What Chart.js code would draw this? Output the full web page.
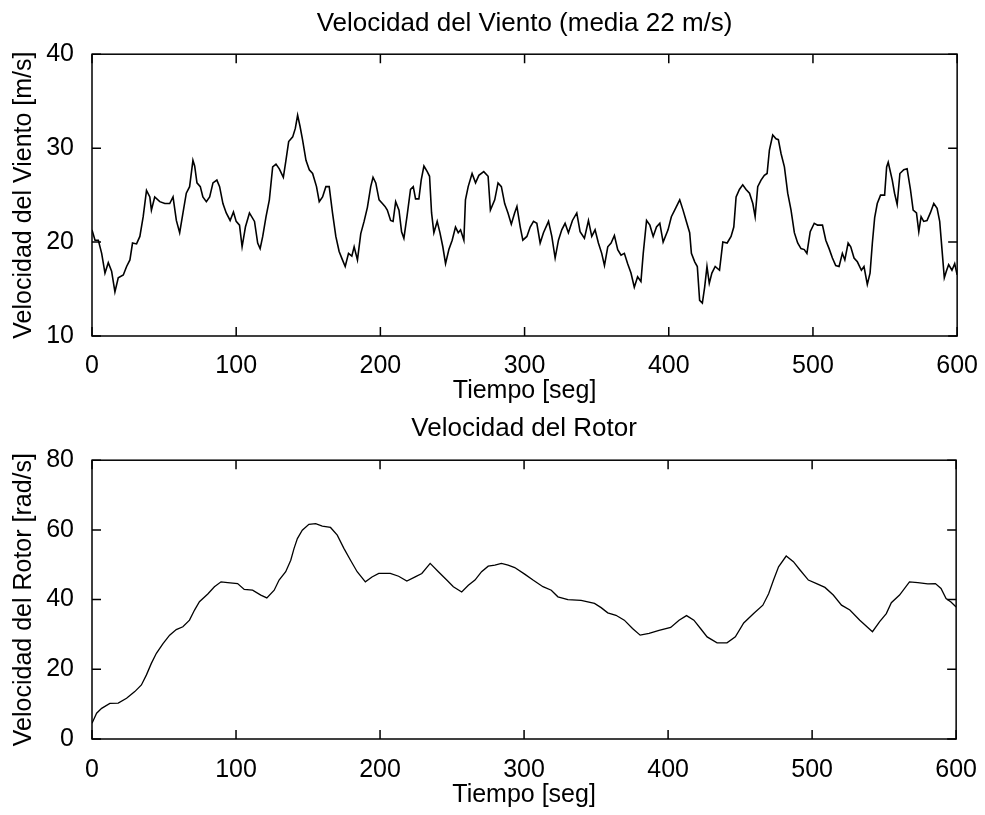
<!DOCTYPE html>
<html>
<head>
<meta charset="utf-8">
<script src="https://cdn.jsdelivr.net/npm/chart.js@4.4.1/dist/chart.umd.min.js"></script>
<style>
  body { margin: 0; background: #fff; }
  canvas { position: absolute; left: 0; }
  #wind { top: 0; }
  #rotor { top: 410px; }
</style>
</head>
<body>
<canvas id="wind" width="985" height="410"></canvas>
<canvas id="rotor" width="985" height="405"></canvas>
<script>
// tiempo [seg] y velocidad del viento [m/s]
const windT = [0,2.1,4.4,6.7,9.0,11.3,13.6,15.9,18.2,21.7,24.0,26.3,28.1,30.9,33.2,35.5,37.8,40.1,41.2,43.5,
  47.0,50.5,53.9,56.2,58.5,60.8,63.1,65.4,67.7,70.0,71.2,72.8,75.1,76.9,79.3,81.6,83.9,86.6,88.5,90.8,
  93.1,95.8,98.1,100.0,102.3,104.1,106.4,109.2,112.7,114.9,116.6,118.4,120.7,123.0,125.3,127.6,129.9,132.7,134.5,136.4,
  139.2,141.0,142.6,144.3,146.0,148.4,150.7,153.0,155.7,157.6,159.9,162.2,164.5,166.8,169.1,171.4,173.7,175.6,177.9,180.2,
  181.8,184.1,186.4,188.7,191.0,193.3,194.9,196.8,199.1,
  201.4,203.2,204.8,207.1,208.8,210.6,212.9,214.7,216.3,218.6,220.9,222.8,224.4,226.7,228.3,230.2,232.5,234.1,235.5,237.1,
  239.4,241.3,243.3,245.2,247.5,249.8,252.1,254.0,255.6,257.9,259.0,260.9,263.6,266.0,268.3,271.7,274.7,276.3,279.3,281.6,
  283.9,286.2,288.5,290.8,293.1,294.7,297.0,298.8,301.6,303.9,306.2,308.5,310.8,313.1,316.6,318.9,321.2,323.5,325.8,328.1,
  330.4,333.2,336.2,338.5,341.5,344.3,346.6,348.9,351.2,353.5,355.4,357.7,360.0,362.3,364.6,366.9,369.2,371.5,373.8,376.1,
  378.4,380.7,382.3,384.6,386.9,389.2,391.5,393.8,396.1,399.5,
  401.8,404.1,407.6,409.9,412.2,414.5,415.7,418.0,419.8,421.4,423.3,424.9,426.5,428.1,429.9,432.2,435.2,437.5,440.5,443.2,
  445.1,446.7,449.0,451.3,453.6,456.0,458.3,459.9,461.7,464.0,466.3,468.2,469.8,472.1,474.4,476.0,477.9,480.2,482.5,484.8,
  487.1,489.4,491.7,494.0,495.8,498.1,500.9,503.2,506.6,508.9,511.2,513.5,515.8,518.1,520.4,522.1,524.4,526.2,528.5,530.8,
  533.6,535.4,537.7,539.6,541.2,542.8,544.6,546.9,549.7,551.1,552.2,555.0,556.6,558.4,560.3,563.0,565.3,567.6,569.5,571.8,
  573.4,575.0,576.8,579.1,581.4,583.8,586.1,587.9,589.5,591.1,592.5,594.1,596.4,598.3,600];
const windV = [21.3,20.2,20.2,18.8,16.7,17.8,16.9,14.7,16.2,16.5,17.4,18.1,19.9,19.8,20.6,22.7,25.5,24.8,23.4,24.8,
  24.3,24.1,24.1,24.8,22.3,21.0,23.1,25.2,25.9,28.7,28.1,26.3,25.9,24.8,24.3,24.8,26.3,26.6,25.9,24.1,
  23.1,22.3,23.2,22.2,21.8,19.5,21.6,23.1,22.2,19.9,19.3,20.6,22.7,24.5,28.0,28.3,27.8,26.9,28.7,30.7,
  31.2,32.1,33.5,32.3,30.9,28.7,27.7,27.3,25.9,24.3,24.8,25.9,25.9,23.1,20.6,19.0,18.1,17.4,18.8,18.5,
  19.5,18.1,20.9,22.2,23.7,25.9,26.9,26.3,24.5,
  24.1,23.8,23.4,22.3,22.2,24.3,23.4,21.1,20.4,22.9,25.6,25.9,24.6,24.6,26.6,28.1,27.5,27.0,23.1,21.0,
  22.2,21.0,19.5,17.7,19.2,20.2,21.6,21.0,21.3,20.2,24.5,25.9,27.3,26.3,27.1,27.5,27.0,23.4,24.5,26.3,
  25.9,24.1,23.1,21.9,23.1,23.8,21.6,20.2,20.6,21.6,22.2,22.0,19.9,21.0,22.2,20.6,18.3,20.2,21.3,22.0,
  21.0,22.3,23.1,21.1,20.4,22.3,20.6,21.3,19.9,18.8,17.5,19.5,19.9,20.7,19.2,18.6,18.8,17.7,16.7,15.2,
  16.3,15.8,18.8,22.3,21.8,20.6,21.6,22.0,20.0,21.3,
  22.7,23.4,24.5,23.4,22.2,21.0,18.8,17.9,17.4,13.8,13.5,15.2,17.4,15.6,16.7,17.4,17.0,20.0,19.9,20.6,
  21.6,24.8,25.6,26.1,25.6,25.2,24.1,22.7,25.9,26.6,27.1,27.3,29.8,31.4,31.0,30.9,29.4,28.0,25.2,23.4,
  21.0,19.9,19.3,19.2,18.8,21.1,22.0,21.8,21.8,20.2,19.3,18.3,17.5,17.4,18.8,18.1,19.9,19.5,18.3,17.9,
  17.0,17.4,15.5,16.7,19.9,22.6,24.1,25.0,25.0,28.0,28.5,26.6,25.2,24.0,27.3,27.7,27.8,25.6,23.4,23.1,
  21.1,22.7,22.2,22.3,23.1,24.1,23.6,22.2,19.2,16.2,16.9,17.6,17.0,17.7,16.5];

// tiempo [seg] y velocidad del rotor [rad/s]
const rotorT = [0,3.2,6.7,12.4,18.2,24.0,29.7,34.3,37.8,41.2,44.7,49.3,53.9,58.5,63.1,67.7,71.2,74.6,80.4,85.0,
  89.6,94.2,101.1,105.7,111.5,117.2,121.4,126.5,129.9,134.5,138.0,140.3,142.6,146.0,150.6,155.3,159.9,165.6,170.3,174.9,
  179.5,184.1,189.8,194.4,199.1,207.1,212.9,218.6,224.4,229.0,234.8,240.5,246.3,250.9,256.7,261.3,265.9,270.5,275.1,279.7,
  284.3,288.9,293.5,
  300.4,306.2,313.1,318.9,323.5,330.4,339.6,348.9,353.5,358.1,363.8,369.6,375.3,380.6,386.8,393.7,401.8,407.6,412.8,417.9,
  422.5,427.1,434.0,440.9,446.7,452.5,459.4,465.8,469.8,473.2,476.7,482.0,487.0,491.6,497.4,503.1,508.9,514.7,520.4,526.2,
  533.1,541.9,546.9,551.5,555.0,560.7,567.6,573.4,580.3,585.6,589.5,593.0,596.4,600];
const rotorV = [4.5,7.4,8.8,10.2,10.3,11.7,13.6,15.5,18.4,21.7,24.6,27.4,29.8,31.4,32.2,34.1,37.0,39.4,41.6,43.7,
  45.1,44.9,44.6,42.9,42.7,41.3,40.5,42.7,45.6,48.0,51.3,54.7,57.5,59.9,61.6,61.8,61.1,60.7,58.5,54.7,
  51.3,48.0,45.1,46.5,47.5,47.5,46.7,45.3,46.5,47.5,50.4,48.0,45.6,43.7,42.2,44.1,45.6,48.0,49.6,49.9,
  50.4,49.9,49.2,
  47.3,45.6,43.7,42.7,40.8,40.0,39.8,38.9,37.7,36.2,35.5,34.1,31.7,29.8,30.3,31.2,32.0,34.1,35.4,34.1,
  31.7,29.3,27.6,27.6,29.3,33.3,36.0,38.4,41.7,45.6,49.4,52.5,50.9,48.5,45.6,44.6,43.5,41.3,38.4,37.0,
  34.1,30.8,33.7,36.0,39.1,41.3,45.1,44.9,44.5,44.6,43.2,40.3,39.3,37.9];

const timeTicks = [0, 100, 200, 300, 400, 500, 600];
const windTicks = [10, 20, 30, 40];
const rotorTicks = [0, 20, 40, 60, 80];

Chart.defaults.color = "#000";
Chart.defaults.font.family = "'Liberation Sans', Arial, sans-serif";
Chart.defaults.font.size = 25;

// marco del eje y marcas de graduacion hacia dentro (estilo MATLAB)
const frameTicks = {
  id: "frameTicks",
  afterDatasetsDraw(chart) {
    const { ctx, chartArea: a, scales: { x, y } } = chart;
    const len = 9;
    ctx.save();
    ctx.strokeStyle = "#000";
    ctx.lineWidth = 1.5;
    ctx.beginPath();
    x.ticks.forEach((t) => {
      const p = x.getPixelForValue(t.value);
      ctx.moveTo(p, a.bottom); ctx.lineTo(p, a.bottom - len);
      ctx.moveTo(p, a.top); ctx.lineTo(p, a.top + len);
    });
    y.ticks.forEach((t) => {
      const p = y.getPixelForValue(t.value);
      ctx.moveTo(a.left, p); ctx.lineTo(a.left + len, p);
      ctx.moveTo(a.right, p); ctx.lineTo(a.right - len, p);
    });
    ctx.stroke();
    ctx.strokeRect(a.left, a.top, a.right - a.left, a.bottom - a.top);
    ctx.restore();
  },
};

function makeChart(id, o) {
  const points = o.t.map((t, i) => ({ x: t, y: o.v[i] }));
  return new Chart(document.getElementById(id), {
    type: "line",
    data: {
      datasets: [{
        data: points,
        borderColor: "#000",
        borderWidth: o.lw,
        pointRadius: 0,
        tension: 0,
        fill: false,
      }],
    },
    options: {
      responsive: false,
      animation: false,
      layout: { padding: { left: 0, right: 25, top: 0, bottom: 0 } },
      plugins: {
        legend: { display: false },
        tooltip: { enabled: false },
        title: {
          display: true,
          fullSize: false,
          text: o.title,
          font: { size: 26, weight: "normal" },
          padding: o.titlePad,
        },
      },
      scales: {
        x: {
          type: "linear",
          min: 0,
          max: 600,
          afterBuildTicks: (s) => { s.ticks = timeTicks.map((v) => ({ value: v })); },
          afterFit: (s) => { s.height = o.xHeight; },
          grid: { display: false },
          border: { display: false },
          ticks: { autoSkip: false, maxRotation: 0, padding: o.xTickPad },
          title: { display: true, text: "Tiempo [seg]", padding: { top: 0, bottom: o.xTitlePad } },
        },
        y: {
          min: o.yTicks[0],
          max: o.yTicks[o.yTicks.length - 1],
          afterBuildTicks: (s) => { s.ticks = o.yTicks.map((v) => ({ value: v })); },
          afterFit: (s) => { s.width = 92; },
          grid: { display: false },
          border: { display: false },
          ticks: { padding: 10 },
          title: { display: true, text: o.yTitle, padding: { top: 9, bottom: 0 } },
        },
      },
    },
    plugins: [frameTicks],
  });
}

makeChart("wind", {
  t: windT, v: windV, lw: 1.6,
  title: "Velocidad del Viento (media 22 m/s)",
  titlePad: { top: 8, bottom: 15 },
  yTitle: "Velocidad del Viento [m/s]",
  yTicks: windTicks,
  xHeight: 74, xTickPad: 7, xTitlePad: 4,
});

makeChart("rotor", {
  t: rotorT, v: rotorV, lw: 1.3,
  title: "Velocidad del Rotor",
  titlePad: { top: 3, bottom: 16 },
  yTitle: "Velocidad del Rotor [rad/s]",
  yTicks: rotorTicks,
  xHeight: 76, xTickPad: 8, xTitlePad: 5,
});
</script>
</body>
</html>
